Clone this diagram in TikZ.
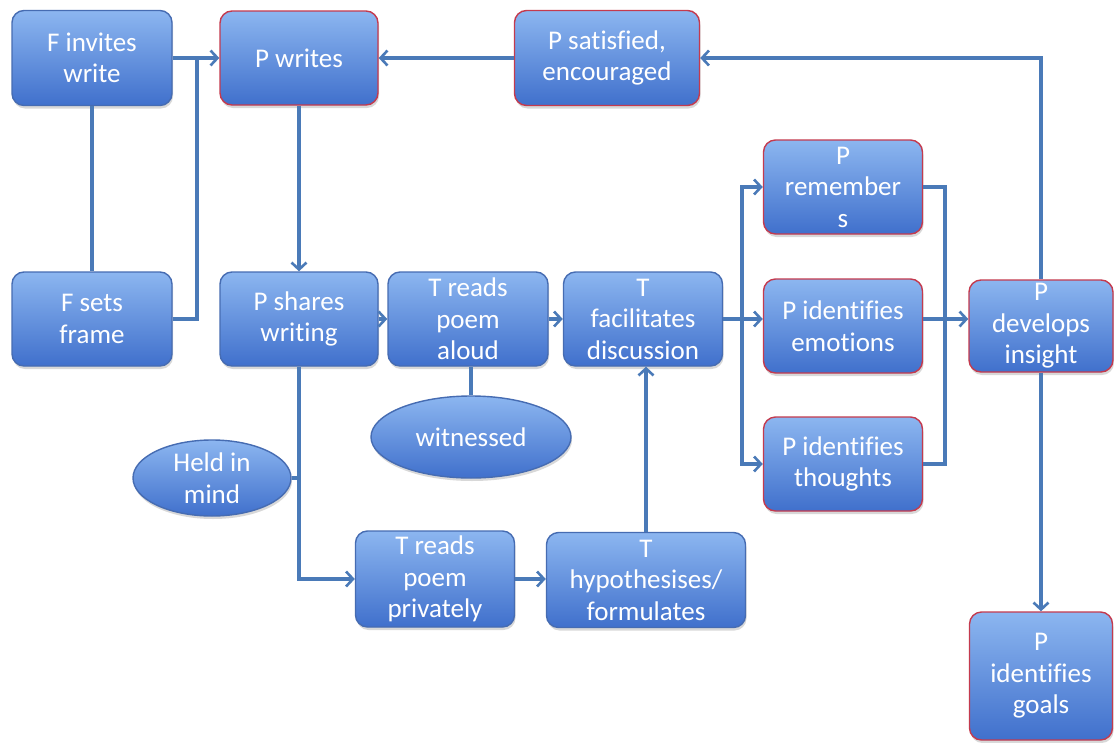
\documentclass[tikz,border=0pt]{standalone}
\usepackage{fontspec}
\setmainfont{Carlito}[Ligatures=NoCommon]
\usetikzlibrary{arrows.meta,shapes.geometric,shadows}
\definecolor{boxtop}{RGB}{140,182,240}
\definecolor{boxbot}{RGB}{64,112,204}
\definecolor{boxline}{RGB}{70,108,178}
\definecolor{redline}{RGB}{196,58,78}
\definecolor{linkcol}{RGB}{74,122,184}
\tikzset{
  stepbox/.style={rounded corners=12pt, top color=boxtop, bottom color=boxbot,
    draw=boxline, line width=1.4pt, text=white, align=center, inner sep=0pt,
    font=\fontsize{27}{31.5}\selectfont,
    drop shadow={shadow xshift=1pt, shadow yshift=-3pt, opacity=0.3}},
  redbox/.style={stepbox, draw=redline},
  oval/.style={ellipse, top color=boxtop, bottom color=boxbot, draw=boxline,
    line width=1.4pt, text=white, align=center, inner sep=0pt,
    font=\fontsize{27}{31.5}\selectfont,
    drop shadow={shadow xshift=1pt, shadow yshift=-3pt, opacity=0.3}},
  link/.style={draw=linkcol, line width=3.2pt},
  arr/.style={link, -{Straight Barb[length=7pt,width=15pt,line width=2.6pt]}}
}
\begin{document}
\begin{tikzpicture}[x=1pt,y=-1pt]
\useasboundingbox (0,0) rectangle (1114,742);
\fill[white] (0,0) rectangle (1114,742);

% boxes
\node[stepbox, minimum width=160pt, minimum height=95pt] (finv) at (92,58) {F invites\\write};
\node[stepbox, minimum width=160pt, minimum height=94pt] (fset) at (92,319) {F sets\\frame};
\node[redbox, minimum width=158pt, minimum height=94pt] (pwr) at (299,58) {P writes};
\node[redbox, minimum width=185pt, minimum height=95pt] (psat) at (607,58) {P satisfied,\\encouraged};
\node[stepbox, minimum width=158pt, minimum height=94pt] (psh) at (299,319) {P shares\\writing};
\node[stepbox, minimum width=160pt, minimum height=94pt] (tra) at (468,319) {T reads\\poem\\aloud};
\node[stepbox, minimum width=159pt, minimum height=94pt] (tfd) at (643,319) {T\\facilitates\\discussion};
\node[redbox, minimum width=159pt, minimum height=94pt] (prem) at (843,187) {P\\remember\\s};
\node[redbox, minimum width=159pt, minimum height=94pt] (pemo) at (843,326) {P identifies\\emotions};
\node[redbox, minimum width=159pt, minimum height=94pt] (ptho) at (843,464) {P identifies\\thoughts};
\node[redbox, minimum width=144pt, minimum height=92pt] (pdev) at (1041,326) {P\\develops\\insight};
\node[redbox, minimum width=143pt, minimum height=128pt] (pgoal) at (1041,676) {P\\identifies\\goals};
\node[stepbox, minimum width=159pt, minimum height=96pt] (trp) at (435,579) {T reads\\poem\\privately};
\node[stepbox, minimum width=199pt, minimum height=95pt] (thyp) at (646,580) {T\\hypothesises/\\formulates};
\node[oval, minimum width=200pt, minimum height=82pt] (wit) at (471,437) {witnessed};
\node[oval, minimum width=158pt, minimum height=76pt] (held) at (212,478) {Held in\\mind};

% junction points
\coordinate (j1) at (197,58);
\coordinate (b1) at (742,319);
\coordinate (c1) at (945,319);

% connectors
\draw[arr] (finv.east) -- (pwr.west);
\draw[link] (fset.east) -| (j1);
\draw[link] (finv.south) -- (fset.north);
\draw[arr] (pwr.south) -- (psh.north);
\draw[arr] (psat.west) -- (pwr.east);
\draw[arr] (pdev.north) |- (psat.east);
\draw[arr] (psh.east) -- (tra.west);
\draw[arr] (tra.east) -- (tfd.west);
\draw[link] (wit.north) -- (wit.north |- tra.south);
\draw[arr] (psh.south) |- (trp.west);
\draw[link] (held.east) -- (held.east -| psh.south);
\draw[arr] (trp.east) -- (trp.east -| thyp.west);
\draw[arr] (thyp.north) -- (thyp.north |- tfd.south);
\draw[arr] (tfd.east) -- (tfd.east -| pemo.west);
\draw[arr] (b1) |- (prem.west);
\draw[arr] (b1) |- (ptho.west);
\draw[link] (prem.east) -| (c1);
\draw[link] (ptho.east) -| (c1);
\draw[arr] (pemo.east |- b1) -- (pdev.west |- b1);
\draw[arr] (pdev.south) -- (pgoal.north);
\end{tikzpicture}
\end{document}
